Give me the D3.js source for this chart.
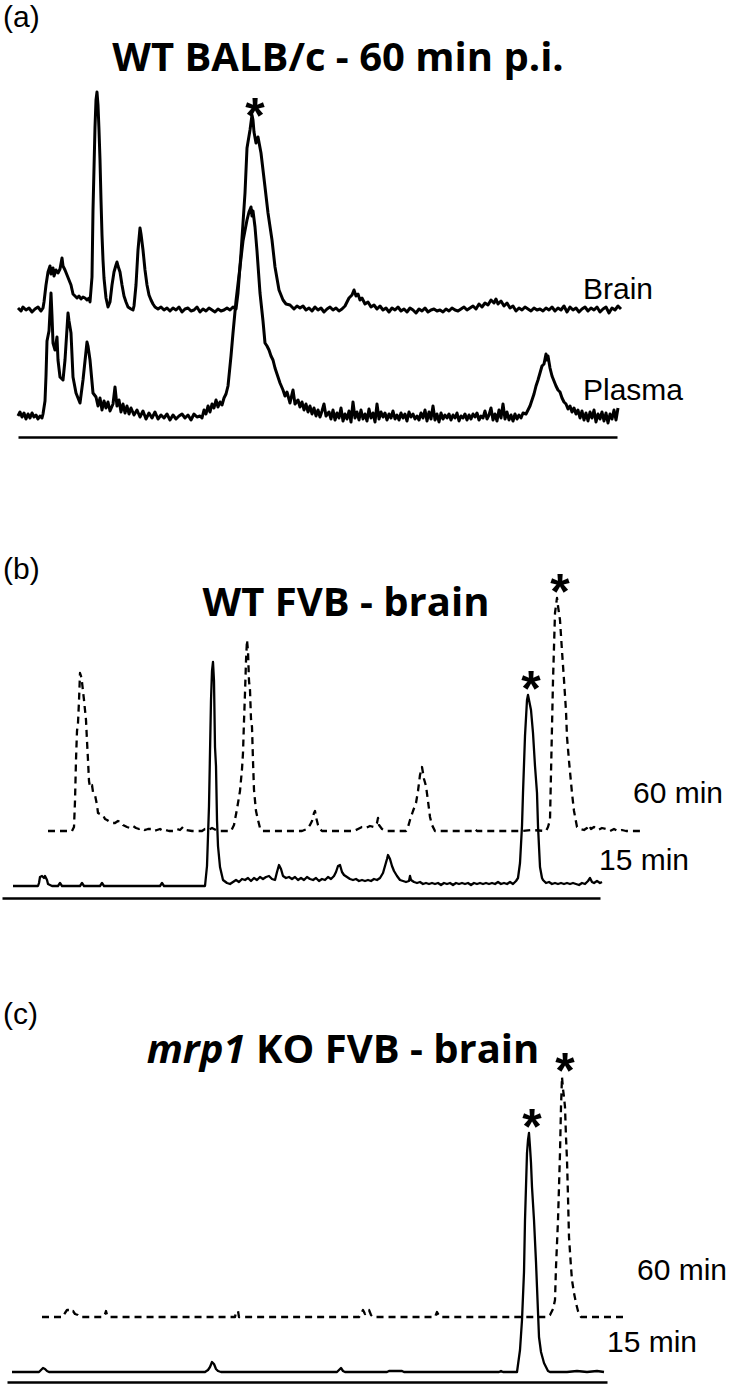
<!DOCTYPE html>
<html>
<head>
<meta http-equiv='Content-Type' content='text/html;charset=utf-8'/>
<title>Radio-HPLC chromatograms</title>
<script src='https://d3js.org/d3.v7.min.js'></script>
<style>
body {
	margin: 0;
	background: #ffffff;
}

.trace {
	fill: none;
	stroke: #000000;
	stroke-linejoin: round;
}

.panel-letter, .trace-label {
	font-family: 'Liberation Sans', Arial, sans-serif;
	font-size: 30px;
	fill: #000000;
}

.panel-title {
	font-family: 'Open Sans', sans-serif;
	font-weight: bold;
	font-size: 40px;
	fill: #000000;
}

.star {
	font-family: 'Liberation Sans', Arial, sans-serif;
	font-weight: bold;
	font-size: 50px;
	fill: #000000;
}
</style>
</head>
<body>
<script>
'use strict'

// retention time (arbitrary units) and radioactivity signal
// each entry is [time, signal above that trace's own baseline]

// (a) WT BALB/c, 60 min p.i.
const brainA = [
	[0,2],[3,-1],[5,3],[8,0],[11,2],[14,-2],[17,1],[20,3],[23,-1],[25,2],
	[26,8],[28,25],[30,38],[32,44],[33,36],[35,42],[36,34],[38,40],[40,37],[42,41],[44,52],[45,44],[47,40],[49,35],
	[51,30],[53,25],[55,16],[57,14],[59,12],[61,14],[63,11],[65,13],[67,12],[69,10],[71,12],
	[72,8],[74,33],[75,100],[77,183],[78,210],[79,218],[80,205],[81,180],[82,150],[83,110],[84,75],[85,50],[86,32],[88,12],[90,3],
	[92,8],[94,25],[96,38],[98,45],[99,48],[100,44],[102,38],[104,25],[106,14],[108,8],[110,3],[113,1],[115,0],
	[116,4],[118,25],[120,60],[122,82],[123,76],[125,60],[127,40],[129,25],[131,15],[133,10],[135,6],[137,3],
	[140,1],[143,3],[146,0],[149,2],[152,-1],[155,2],[158,0],[161,3],[164,-2],[167,1],[170,2],[173,-1],[176,0],[179,3],
	[182,-2],[185,1],[188,-1],[191,2],[194,0],[197,-2],[200,1],[203,-1],[206,0],[209,2],[212,0],[215,3],
	[218,1],[220,17],[223,57],[227,117],[229,162],[232,180],[234,195],[235,190],[236,178],[238,167],[240,173],[243,157],
	[247,123],[250,97],[254,70],[257,43],[261,20],[265,10],[268,6],[272,5],[276,1],[279,4],[282,2],
	[285,4],[288,0],[291,2],[294,-1],[297,3],[300,0],[303,2],[306,-2],[309,1],[312,3],[315,0],[318,2],[321,-1],[324,1],[327,4],
	[328,6],[331,12],[334,15],[336,20],[338,14],[340,16],[342,10],[344,12],[347,6],[350,8],[353,3],[356,5],[359,1],[362,4],[365,0],[368,2],
	[371,-2],[374,2],[377,0],[380,3],[383,-1],[386,1],[389,-2],[392,2],[395,0],[398,-3],[401,1],[404,-1],[407,2],[410,-2],
	[413,0],[416,1],[419,-1],[422,0],[425,-2],[428,1],[431,-1],[434,2],[437,0],[440,-1],[443,1],[446,3],[449,0],
	[452,2],[455,4],[458,1],[461,6],[464,3],[467,7],[470,5],[473,10],[476,7],[478,11],[480,6],[483,9],[486,4],[489,7],
	[492,2],[495,4],[498,-1],[501,2],[504,0],[507,3],[510,1],[513,-1],[516,2],[519,0],[522,1],[525,-1],[528,2],[531,0],
	[534,3],[537,-1],[540,2],[543,0],[546,4],[549,-2],[552,3],[555,0],[558,2],[561,-2],[564,1],[567,3],[570,-1],[573,2],
	[576,0],[579,3],[582,-2],[585,1],[588,3],[591,-3],[594,2],[597,0],[600,4],[603,1]
]

const plasmaA = [
	[0,0],[2,4],[4,-1],[6,3],[8,-3],[10,2],[12,-2],[14,3],[16,-1],[18,1],[20,-3],[22,0],[24,-2],[25,2],
	[27,15],[28,40],[29,75],[31,85],[33,123],[34,100],[35,73],[37,66],[39,79],[40,56],[42,39],[45,36],[47,56],[50,103],
	[51,95],[53,83],[55,39],[58,23],[62,13],[65,36],[69,74],[70,70],[72,56],[75,23],[78,19],[80,10],[82,18],[84,6],
	[86,15],[88,8],[90,14],[92,5],[95,12],[97,29],[99,10],[101,16],[103,4],[105,12],[107,3],[109,10],[111,2],[113,8],
	[116,1],[119,6],[122,-1],[125,5],[128,-3],[131,3],[134,-2],[137,4],[140,-3],[143,1],[146,-2],[149,2],[152,-4],[155,1],
	[158,-3],[161,0],[164,2],[167,-2],[170,1],[173,-4],[176,2],[179,-1],[182,0],[184,-2],
	[186,6],[188,2],[190,10],[192,4],[194,12],[196,8],[198,16],[200,9],[202,14],[204,11],[206,18],[208,22],
	[210,30],[213,60],[215,83],[218,115],[222,149],[225,175],[229,196],[231,204],[233,209],[234,200],[235,205],[237,189],
	[239,165],[242,123],[245,95],[247,73],[249,70],[251,66],[253,60],[255,56],[257,48],[260,39],[262,33],[265,26],
	[267,20],[269,24],[272,13],[274,22],[275,26],[277,12],[280,16],[282,9],[284,14],[286,6],[288,12],[290,4],[292,10],
	[294,2],[296,8],[298,0],[300,6],[302,-1],[304,5],[306,12],[308,0],
	[311,4],[313,-3],[315,6],[317,-4],[319,3],[321,-2],[323,8],[325,-5],[327,2],[329,-3],[331,5],[333,-6],[335,14],[337,-2],
	[339,4],[341,-4],[343,6],[345,-3],[347,2],[349,-5],[351,7],[353,-2],[355,3],[357,-6],[359,12],[361,-3],[363,4],[365,-1],
	[367,3],[369,-4],[371,2],[373,-2],[375,5],[377,-3],[379,1],[381,-4],[383,3],[385,-2],[387,2],[389,-5],[391,4],[393,-1],
	[395,2],[397,-3],[399,0],[401,-4],[403,3],[405,-2],[407,6],[409,-5],[411,4],[413,-3],[415,10],[417,-4],[419,2],[421,-6],
	[423,3],[425,-3],[427,1],[429,-2],[431,2],[433,-4],[435,1],[437,-2],[439,3],[441,-5],[443,0],[445,-2],[447,2],[449,-4],
	[451,1],[453,-3],[455,2],[457,-1],[459,3],[461,-4],[463,0],[465,-2],[467,5],[469,-3],[471,1],[473,8],[475,-4],[477,2],
	[479,-5],[481,6],[483,-2],[485,12],[487,-3],[489,4],[491,-4],[493,1],[495,-5],[497,2],[499,-3],[501,1],[503,-2],[505,3],
	[508,2],[510,6],[512,10],[514,16],[516,22],[518,30],[520,36],[522,43],[524,50],[526,52],[528,62],[529,56],[530,60],
	[532,48],[534,40],[536,35],[538,30],[540,26],[542,24],[544,18],[546,14],[548,12],[550,7],[552,10],[554,4],[556,8],
	[558,2],[560,6],[562,-2],[564,5],[566,-4],[568,3],[570,-5],[572,4],[574,-2],[576,6],[578,-6],[580,2],[582,-3],[584,4],
	[586,-5],[588,3],[590,-7],[592,2],[594,-3],[596,6],[598,-4],[600,8]
]

// (b) WT FVB brain
const fvb60 = [
	[46,0],[70,0],[72,4],[73,30],[74,71],[75,100],[76,108],[77,130],[78,158],[79,155],[80,149],[82,131],[84,111],[85,90],
	[86,71],[87,50],[88,44],[90,46],[91,39],[93,36],[95,26],[96,18],[98,17],[101,16],[103,12],[105,11],[108,9],[111,8],
	[113,8],[116,10],[119,9],[121,6],[123,5],[125,4],[128,3],[131,5],[134,3],[137,2],[140,3],[143,1],[146,2],[149,2],
	[152,0],[155,1],[158,2],[161,0],[164,1],[167,0],[172,0],[175,2],[178,1],[181,4],[184,1],[190,0],[200,0],[203,2],
	[206,1],[210,3],[214,1],[218,0],[229,0],[232,6],[235,22],[238,40],[240,62],[241,78],[242,110],[243,138],[244,170],
	[245,191],[246,180],[247,150],[248,141],[249,112],[250,104],[251,70],[252,41],[254,20],[256,11],[258,3],[260,0],
	[300,0],[305,2],[308,6],[310,10],[312,18],[313,20],[314,14],[316,6],[318,2],[320,0],[352,0],[356,2],[360,4],[364,3],
	[368,5],[372,4],[375,8],[376,13],[377,6],[380,2],[384,0],[404,0],[406,4],[408,11],[411,20],[414,28],[416,40],[418,56],
	[420,64],[421,58],[422,52],[424,45],[426,30],[428,14],[430,6],[433,0],[470,0],[473,2],[475,0],[505,0],[520,0],[530,1],
	[544,0],[546,4],[548,11],[550,104],[551,150],[553,218],[555,233],[556,225],[558,211],[560,180],[562,151],[564,120],
	[565,94],[567,70],[570,38],[572,20],[575,4],[578,2],[582,1],[585,3],[587,6],[589,2],[592,4],[596,1],[600,3],[604,2],
	[608,0],[612,2],[616,0],[620,1],[624,0],[638,0]
]

const fvb15 = [
	[11,0],[36,0],[37,3],[38,9],[40,10],[42,8],[43,10],[45,6],[46,2],[48,1],[50,0],[56,0],[58,3],[60,0],[78,0],[80,3],
	[82,0],[98,0],[100,3],[102,0],[158,0],[160,3],[162,0],[203,0],[205,20],[207,80],[209,186],[210,215],[211,224],
	[212,205],[213,139],[214,120],[215,66],[216,40],[218,19],[221,6],[225,3],[228,2],[231,4],[234,6],[237,4],[240,7],
	[243,6],[246,8],[249,5],[252,8],[255,6],[258,9],[261,7],[264,9],[267,10],[270,7],[273,6],[275,14],[277,21],[279,17],
	[281,10],[284,8],[287,9],[290,7],[293,9],[296,6],[299,8],[302,6],[305,9],[308,7],[311,6],[314,8],[317,5],[320,7],
	[323,6],[326,9],[329,7],[332,10],[334,14],[336,20],[338,21],[340,14],[342,11],[345,9],[348,7],[351,6],[354,7],[357,5],
	[360,6],[363,5],[366,6],[369,5],[372,7],[375,6],[378,8],[381,13],[383,20],[385,27],[386,31],[388,27],[390,20],[392,15],
	[395,10],[398,6],[401,5],[404,4],[407,5],[408,10],[409,6],[412,4],[415,3],[418,4],[421,2],[424,3],[427,2],[430,3],
	[433,2],[436,3],[439,1],[442,3],[445,2],[448,3],[451,1],[454,3],[457,2],[460,3],[463,2],[466,3],[469,1],[472,3],
	[475,2],[478,3],[481,2],[484,3],[487,2],[490,3],[493,2],[496,4],[499,2],[502,3],[505,2],[508,4],[511,2],[514,5],
	[516,8],[518,23],[520,60],[521,93],[523,150],[525,186],[526,191],[527,186],[529,176],[531,153],[533,120],[535,93],
	[536,60],[538,19],[540,8],[541,6],[544,3],[547,4],[550,2],[553,3],[556,2],[559,3],[562,2],[565,3],[568,2],[571,3],
	[574,2],[577,1],[580,3],[583,2],[586,5],[588,8],[590,4],[592,3],[595,5],[598,3],[600,4]
]

// (c) mrp1 KO FVB brain
const ko60 = [
	[35,0],[56,0],[58,4],[60,7],[62,7],[64,5],[66,6],[68,3],[71,2],[73,0],[96,0],[98,3],[99,6],[100,2],[102,0],[228,0],
	[229,5],[231,6],[232,0],[352,0],[354,3],[356,7],[358,3],[360,6],[362,7],[364,2],[366,0],[428,0],[430,5],[431,3],
	[433,0],[540,0],[543,2],[546,8],[548,17],[549,50],[551,97],[552,130],[553,164],[554,210],[555,240],[556,228],[557,220],
	[558,210],[559,180],[560,157],[561,120],[562,80],[564,50],[565,37],[567,24],[569,14],[571,6],[574,0],[621,0]
]

const ko15 = [
	[5,0],[32,0],[34,2],[36,4],[38,3],[40,1],[42,0],[198,0],[201,2],[203,5],[205,10],[207,8],[209,3],[211,1],[214,0],
	[330,0],[332,2],[334,4],[336,1],[338,0],[380,0],[382,1],[395,1],[397,0],[492,0],[494,1],[496,0],[510,0],[513,22],
	[515,52],[517,100],[518,152],[520,219],[521,232],[522,239],[523,225],[524,209],[525,185],[527,152],[529,110],[530,85],
	[532,35],[534,20],[537,9],[541,1],[543,0],[560,0],[570,1],[580,0],[590,1],[597,0]
]

const panelLetters = ['(a)', '(b)', '(c)']
const panelTitles = [
	[{text: 'WT BALB/c - 60 min p.i.', italic: false}],
	[{text: 'WT FVB - brain', italic: false}],
	[{text: 'mrp1', italic: true}, {text: ' KO FVB - brain', italic: false}]
]
const traceLabels = [['Brain', 'Plasma'], ['60 min', '15 min'], ['60 min', '15 min']]
// retention time of the peaks marked with an asterisk, per trace
const starPeaks = [[234, null], [555, 526], [555, 522]]

// page layout (pixels)
const width = 731
const height = 1384
const starSize = 50

const layout = [
	{letterY: 27, titleX: 338, titleY: 71, axisY: 437, xRange: [18, 617], xDomain: [0, 599], starGap: 11,
		traces: [
			{data: brainA, base: 310, dashed: false, lw: 3, lx: 583, ly: 299},
			{data: plasmaA, base: 416, dashed: false, lw: 3, lx: 583, ly: 400}
		]},
	{letterY: 579, titleX: 346, titleY: 616, axisY: 898, xRange: [2, 600], xDomain: [0, 598], starGap: 18,
		traces: [
			{data: fvb60, base: 831, dashed: true, lw: 2.3, lx: 633, ly: 803},
			{data: fvb15, base: 886, dashed: false, lw: 2.3, lx: 599, ly: 870}
		]},
	{letterY: 1024, titleX: 343, titleY: 1063, axisY: 1382, xRange: [7, 607], xDomain: [0, 600], starGap: 18,
		traces: [
			{data: ko60, base: 1317, dashed: true, lw: 2.3, lx: 637, ly: 1280},
			{data: ko15, base: 1372, dashed: false, lw: 2.3, lx: 607, ly: 1352}
		]}
]

const svg = d3.select('body').append('svg')
	.attr('width', width)
	.attr('height', height)

svg.append('rect')
	.attr('width', '100%')
	.attr('height', '100%')
	.attr('fill', '#ffffff')

layout.forEach(function(p, i) { drawPanel(p, i) })

/**
 * drawPanel
 * Letter, title, stacked chromatograms, baseline axis and asterisks for one panel.
 */
function drawPanel(p, i)
{
	const g = svg.append('g')
	const x = d3.scaleLinear().domain(p.xDomain).range(p.xRange)

	g.append('text')
		.attr('class', 'panel-letter')
		.attr('x', 3)
		.attr('y', p.letterY)
		.text(panelLetters[i])

	const title = g.append('text')
		.attr('class', 'panel-title')
		.attr('x', p.titleX)
		.attr('y', p.titleY)
		.attr('text-anchor', 'middle')
	panelTitles[i].forEach(function(part) {
		title.append('tspan')
			.style('font-style', part.italic ? 'italic' : 'normal')
			.text(part.text)
	})

	// time axis: a bare line without ticks
	const axis = g.append('g')
		.attr('transform', 'translate(0,' + p.axisY + ')')
		.call(d3.axisBottom(x).tickValues([]).tickSizeOuter(0))
	axis.select('.domain')
		.attr('stroke', '#000000')
		.attr('stroke-width', 2.6)

	p.traces.forEach(function(t, j) {
		const y = d3.scaleLinear().domain([0, 100]).range([t.base, t.base - 100])
		const line = d3.line()
			.x(function(d) { return x(d[0]) })
			.y(function(d) { return y(d[1]) })

		g.append('path')
			.attr('class', 'trace')
			.attr('d', line(t.data))
			.attr('stroke-width', t.lw)
			.attr('stroke-dasharray', t.dashed ? '7,5' : null)

		g.append('text')
			.attr('class', 'trace-label')
			.attr('x', t.lx)
			.attr('y', t.ly)
			.text(traceLabels[i][j])

		const peakX = starPeaks[i][j]
		if (peakX != null) {
			const near = t.data.filter(function(d) { return Math.abs(d[0] - peakX) <= 3 })
			const top = d3.max(near, function(d) { return d[1] })
			// asterisk glyph centre sits about 0.58 em above its baseline
			g.append('text')
				.attr('class', 'star')
				.attr('x', x(peakX) + 3)
				.attr('y', y(top) - p.starGap + 0.58 * starSize)
				.attr('text-anchor', 'middle')
				.text('*')
		}
	})
}
</script>
</body>
</html>
